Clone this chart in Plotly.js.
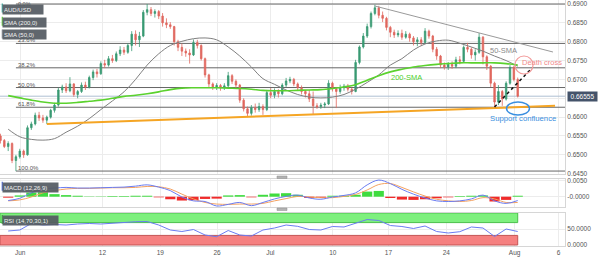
<!DOCTYPE html>
<html><head><meta charset="utf-8">
<script src="https://cdn.plot.ly/plotly-3.0.1.min.js"></script>
<style>html,body{margin:0;padding:0;background:#fff;}#chart{width:600px;height:259px;}</style>
</head><body><div id="chart"></div>
<script>
// ---------- DATA (AUD/USD 4H-style candles) ----------
const candleOpen = [.6550,.6538,.6522,.6530,.6485,.6495,.6510,.6500,.6572,.6582,.6605,.6598,.6592,.6600,.6618,.6632,.6672,.6680,.6670,.6688,
.6660,.6668,.6685,.6680,.6705,.6720,.6715,.6742,.6738,.6755,.6750,.6768,.6778,.6772,.6790,.6820,.6805,.6815,.6878,.6885,
.6875,.6880,.6868,.6850,.6845,.6840,.6800,.6785,.6775,.6770,.6765,.6798,.6790,.6755,.6712,.6688,.6680,.6684,.6678,.6683,
.6710,.6695,.6685,.6645,.6622,.6610,.6625,.6620,.6628,.6620,.6665,.6658,.6668,.6662,.6685,.6696,.6700,.6688,.6678,.6668,
.6662,.6648,.6630,.6628,.6632,.6635,.6690,.6675,.6668,.6678,.6682,.6674,.6668,.6745,.6786,.6815,.6840,.6875,.6890,.6870,
.6862,.6838,.6825,.6818,.6822,.6812,.6820,.6810,.6800,.6805,.6798,.6828,.6815,.6780,.6762,.6738,.6733,.6740,.6735,.6752,
.6748,.6785,.6780,.6765,.6772,.6812,.6760,.6735,.6690,.6640,.6668,.6648,.6690,.6732,.6700];
const candleHigh = [.6556,.6542,.6536,.6533,.6500,.6516,.6514,.6578,.6588,.6612,.6614,.6606,.6604,.6622,.6638,.6678,.6686,.6690,.6706,.6690,
.6672,.6692,.6694,.6710,.6726,.6728,.6748,.6752,.6762,.6765,.6774,.6788,.6786,.6796,.6828,.6830,.6826,.6884,.6900,.6892,
.6886,.6884,.6876,.6862,.6852,.6842,.6805,.6795,.6782,.6780,.6806,.6805,.6793,.6758,.6715,.6692,.6690,.6688,.6690,.6720,
.6714,.6700,.6688,.6650,.6628,.6632,.6636,.6638,.6634,.6672,.6677,.6676,.6674,.6690,.6704,.6707,.6704,.6692,.6684,.6672,
.6672,.6668,.6637,.6638,.6640,.6698,.6694,.6680,.6686,.6688,.6688,.6678,.6752,.6790,.6823,.6848,.6880,.6898,.6895,.6880,
.6866,.6842,.6832,.6830,.6832,.6828,.6824,.6815,.6812,.6812,.6836,.6832,.6818,.6786,.6765,.6745,.6746,.6748,.6760,.6762,
.6790,.6797,.6785,.6780,.6823,.6815,.6764,.6738,.6694,.6685,.6672,.6695,.6738,.6736,.6705];
const candleLow = [.6530,.6518,.6510,.6478,.6457,.6490,.6492,.6498,.6566,.6578,.6590,.6585,.6582,.6596,.6612,.6628,.6664,.6664,.6666,.6654,
.6650,.6664,.6672,.6676,.6698,.6705,.6712,.6730,.6734,.6744,.6746,.6762,.6765,.6768,.6775,.6790,.6786,.6812,.6870,.6868,
.6864,.6860,.6840,.6836,.6834,.6790,.6775,.6762,.6760,.6742,.6762,.6782,.6750,.6705,.6680,.6672,.6672,.6670,.6672,.6680,
.6688,.6676,.6638,.6615,.6600,.6604,.6612,.6614,.6606,.6616,.6650,.6650,.6652,.6658,.6680,.6690,.6682,.6670,.6660,.6652,
.6640,.6606,.6622,.6622,.6624,.6632,.6668,.6624,.6662,.6670,.6668,.6660,.6666,.6740,.6782,.6810,.6835,.6870,.6862,.6852,
.6830,.6812,.6810,.6812,.6805,.6808,.6800,.6790,.6788,.6790,.6795,.6808,.6772,.6752,.6730,.6726,.6725,.6728,.6730,.6740,
.6745,.6772,.6755,.6750,.6768,.6740,.6725,.6680,.6627,.6632,.6630,.6644,.6686,.6695,.6652];
const candleClose = [.6538,.6522,.6530,.6485,.6495,.6510,.6500,.6572,.6582,.6605,.6598,.6592,.6600,.6618,.6632,.6672,.6680,.6670,.6688,.6660,
.6668,.6685,.6680,.6705,.6720,.6715,.6742,.6738,.6755,.6750,.6768,.6778,.6772,.6790,.6820,.6805,.6815,.6878,.6885,.6875,
.6880,.6868,.6850,.6845,.6840,.6800,.6785,.6775,.6770,.6765,.6798,.6790,.6755,.6712,.6688,.6680,.6684,.6678,.6683,.6710,
.6695,.6685,.6645,.6622,.6610,.6625,.6620,.6628,.6620,.6665,.6658,.6668,.6662,.6685,.6696,.6700,.6688,.6678,.6668,.6662,
.6648,.6630,.6628,.6632,.6635,.6690,.6675,.6668,.6678,.6682,.6674,.6668,.6745,.6786,.6815,.6840,.6875,.6890,.6870,.6862,
.6838,.6825,.6818,.6822,.6812,.6820,.6810,.6800,.6805,.6798,.6828,.6815,.6780,.6762,.6738,.6733,.6740,.6735,.6752,.6748,
.6785,.6780,.6765,.6772,.6812,.6760,.6735,.6690,.6640,.6668,.6648,.6690,.6732,.6700,.66555];

// indicators sampled every 3rd candle
const sma50 = [.6568,.6548,.6541,.6539,.6543,.6560,.6576,.6596,.6620,.6643,.6667,.6700,.6738,.6768,.6790,.6801,.6808,.6810,.6805,.6786,
.6762,.6733,.6702,.6687,.6672,.6660,.6653,.6651,.6653,.6660,.6674,.6692,.6712,.6738,.6755,.6778,.6794,.6802,.6804,.6796,
.6786,.6775,.6762,.6750,.6735];
const sma200 = [.6657,.6651,.6645,.6640,.6637,.6637,.6639,.6642,.6645,.6650,.6655,.6658,.6662,.6667,.6673,.6677,.6678,.6678,.6678,.6677,
.6676,.6674,.6671,.6670,.6670,.6671,.6672,.6673,.6676,.6680,.6686,.6698,.6710,.6720,.6727,.6733,.6737,.6740,.6742,.6744,
.6744,.6744,.6744,.6742,.6738];
const macdLine = [-0.0012,-0.0005,0.0012,0.0024,0.0027,0.0029,0.0027,0.0027,0.0028,0.0029,0.0030,0.0033,0.0037,0.0030,0.0019,-0.0001,-0.0013,-0.0015,-0.0029,-0.0024,
-0.0018,-0.0028,-0.0018,-0.0007,0.0001,0.0005,-0.0004,-0.0008,-0.0001,0.0004,0.0012,0.0037,0.0052,0.0041,0.0023,0.0008,-0.0004,-0.0013,-0.0015,-0.0013,
-0.0007,0.0005,-0.0013,-0.0021,-0.0012];
const macdSignal = [-0.0013,-0.0010,-0.0001,0.0012,0.0019,0.0024,0.0026,0.0026,0.0027,0.0028,0.0028,0.0029,0.0032,0.0031,0.0024,0.0008,-0.0007,-0.0018,-0.0023,-0.0024,
-0.0023,-0.0023,-0.0021,-0.0013,-0.0006,0.0001,-0.0001,-0.0003,-0.0003,0.0001,0.0007,0.0021,0.0038,0.0041,0.0029,0.0015,0.0002,-0.0008,-0.0013,-0.0015,
-0.0012,-0.0003,-0.0007,-0.0018,-0.0018];
const macdHist = [-0.0003,0.0004,0.0013,0.0014,0.0008,0.0005,0.0003,0.0001,0.0001,0.0002,0.0002,0.0003,0.0003,-0.0002,-0.0008,-0.0012,-0.0011,-0.0007,-0.0006,0.0004,
0.0005,-0.0002,0.0006,0.0010,0.0011,0.0006,-0.0004,-0.0004,0.0003,0.0003,0.0006,0.0016,0.0018,-0.0004,-0.0009,-0.0010,-0.0008,-0.0005,-0.0002,0.0002,
0.0003,0.0004,-0.0015,-0.0010,0.0003];
const rsi = [43.8,46.9,67.2,62.5,64.0,62.5,65.6,67.2,65.6,67.2,70.3,72.8,73.4,62.5,46.9,42.2,48.4,31.3,25.9,45.3,
31.3,28.1,46.9,53.1,62.5,58.4,48.4,46.9,57.8,56.3,68.8,79.7,76.6,60.9,57.8,51.6,59.4,42.2,37.5,41.6,
56.3,53.1,26.6,50.0,42.2];

const tickDays = [0.1, 7.2, 12.2, 17.1, 21.7, 27.1, 31.9, 36.9, 42.8, 46.6];
const tickLabels = ['Jun','12','19','26','Jul','10','17','24','Aug','6'];
const priceTicks = [0.645, 0.650, 0.655, 0.660, 0.665, 0.670, 0.675, 0.680, 0.685, 0.690];

const fibHigh = 0.6900, fibLow = 0.6457;
const fibLevels = [0, 0.236, 0.382, 0.5, 0.618, 1];
const fibLabels = ['0.0%','23.6%','38.2%','50.0%','61.8%','100.0%'];
const rsiUpper = 70, rsiLower = 30;

// ---------- GEOMETRY ----------
const startDay = -1.6, candlesPerDay = 3;
const candleX = candleClose.map((_, i) => startDay + i / candlesPerDay);
const indStep = 3, indOffset = 2;
const indX = sma50.map((_, k) => candleX[indOffset + k * indStep]);
const xMin = -1.641, xMax = 47.15;
const lastX = candleX[candleX.length - 1];
const lastClose = candleClose[candleClose.length - 1];

const PW = 565, PH = 246;
const fx = x => x / PW, fy = y => 1 - y / PH;
const FONT = 'Liberation Sans, Arial, sans-serif';

const traces = [
  {type:'candlestick', x:candleX, open:candleOpen, high:candleHigh, low:candleLow, close:candleClose,
   xaxis:'x', yaxis:'y', whiskerwidth:0, hoverinfo:'skip',
   increasing:{line:{color:'#3a9a73', width:0.8}, fillcolor:'#3a9a73'},
   decreasing:{line:{color:'#e0675e', width:0.8}, fillcolor:'#e0675e'}},
  {type:'scatter', mode:'lines', x:indX, y:sma50, yaxis:'y', line:{color:'#808080', width:1, shape:'spline'}, hoverinfo:'skip'},
  {type:'scatter', mode:'lines', x:indX, y:sma200, yaxis:'y', line:{color:'#5bd22e', width:1.6, shape:'spline'}, hoverinfo:'skip'},
  {type:'bar', x:indX, y:macdHist, yaxis:'y2', marker:{color:macdHist.map(v => v >= 0 ? '#3fdc3f' : '#f02a2a')}, hoverinfo:'skip'},
  {type:'scatter', mode:'lines', x:indX, y:macdSignal, yaxis:'y2', line:{color:'#f4a261', width:1, shape:'spline'}, hoverinfo:'skip'},
  {type:'scatter', mode:'lines', x:indX, y:macdLine, yaxis:'y2', line:{color:'#6a7cf2', width:1, shape:'spline'}, hoverinfo:'skip'},
  {type:'scatter', mode:'lines', x:indX, y:rsi, yaxis:'y3', line:{color:'#6a7cf2', width:1}, hoverinfo:'skip'}
];

const shapes = [];
const annotations = [];

// Fibonacci retracement lines (from the swing low candle to the right edge)
const fibStartX = candleX[candleLow.indexOf(Math.min(...candleLow))];
fibLevels.forEach((lv, i) => {
  const p = fibHigh - lv * (fibHigh - fibLow);
  shapes.push({type:'line', xref:'x', yref:'y', x0:fibStartX, x1:xMax, y0:p, y1:p, layer:'between',
               line:{color:'#666', width:1}});
  if (lv === 0) {
    annotations.push({xref:'x', yref:'paper', x:fibStartX + 0.05, y:1, xanchor:'left', yanchor:'top', yshift:1,
                      text:fibLabels[i], showarrow:false, font:{family:FONT, size:5.5, color:'#555'}});
  } else {
    annotations.push({xref:'x', yref:'y', x:fibStartX + 0.05, y:p, xanchor:'left', yanchor:'bottom', yshift:-2,
                      text:fibLabels[i], showarrow:false, font:{family:FONT, size:6, color:'#555'}});
  }
});
// current price line
shapes.push({type:'line', xref:'x', yref:'y', x0:xMin, x1:xMax, y0:lastClose, y1:lastClose, layer:'between',
             line:{color:'#aebfd2', width:1}});

// drawn trendlines (day, price)
const supportLine = {x0:candleX[12], y0:candleLow[12], x1:46.29, y1:0.66300};
const resistanceLine = {x0:candleX[97], y0:0.68947, x1:46.11, y1:0.67727};
const breakLine = {x0:candleX[128], y0:candleLow[128], x1:44.13, y1:0.67250};
shapes.push(Object.assign({type:'line', xref:'x', yref:'y', line:{color:'#f5a524', width:2}}, supportLine));
shapes.push(Object.assign({type:'line', xref:'x', yref:'y', line:{color:'#9a9a9a', width:1}}, resistanceLine));
shapes.push(Object.assign({type:'line', xref:'x', yref:'y', line:{color:'#111', width:1.5, dash:'dot'}}, breakLine));
// death cross circle and support ellipse
shapes.push({type:'circle', xref:'x', yref:'y', x0:42.83, x1:44.39, y0:0.67144, y1:0.67621, line:{color:'#f29a9a', width:1.2}});
shapes.push({type:'circle', xref:'x', yref:'y', x0:42.10, x1:44.08, y0:0.66057, y1:0.66401, line:{color:'#3a8fe0', width:1.5}});

// RSI bands
shapes.push({type:'rect', xref:'x', yref:'y3', x0:xMin, x1:lastX, y0:rsiUpper, y1:100, layer:'between',
             fillcolor:'#7ef07e', line:{color:'#4bbf4b', width:1}});
shapes.push({type:'rect', xref:'x', yref:'y3', x0:xMin, x1:lastX, y0:0, y1:rsiLower, layer:'between',
             fillcolor:'#f58080', line:{color:'#c45555', width:1}});

// panel divider handles
[[176, 178.5], [208, 210.5]].forEach(([a, b]) => {
  shapes.push({type:'rect', xref:'paper', yref:'paper', x0:fx(277), x1:fx(287), y0:fy(b), y1:fy(a),
               fillcolor:'#b3b3b3', line:{color:'#8f8f8f', width:0.5}});
});

// legend / indicator label boxes
const labelBoxes = [
  {text:'AUD/USD', top:3.5, w:40, edge:'#2aa59a'},
  {text:'SMA (200,0)', top:16.8, w:43, edge:'#55d12c'},
  {text:'SMA (50,0)', top:29.5, w:43, edge:'#8a9099'},
  {text:'MACD (12,26,9)', top:181.8, w:55, edge:'#3b5bdb'},
  {text:'RSI (14,70,30,1)', top:215, w:55, edge:'#3c9c3c'}
];
labelBoxes.forEach(b => {
  annotations.push({xref:'paper', yref:'paper', x:fx(1.7), y:fy(b.top), xanchor:'left', yanchor:'top',
    text:b.text, showarrow:false, width:b.w - 2, height:7, align:'left', borderpad:1,
    bgcolor:'rgba(84,90,98,0.93)', font:{family:FONT, size:6, color:'#f2f2f2'}});
  shapes.push({type:'rect', xref:'paper', yref:'paper', x0:fx(1.7), x1:fx(2.8), y0:fy(b.top + 9), y1:fy(b.top),
    fillcolor:b.edge, line:{width:0}});
});

// current price tag
annotations.push({xref:'paper', yref:'y', x:fx(567), y:lastClose, xanchor:'left', yanchor:'middle',
  text:lastClose.toFixed(5), showarrow:false, width:27, height:7, borderpad:1,
  bgcolor:'#44536a', font:{family:FONT, size:6.5, color:'#fff'}});

// chart notes
annotations.push({xref:'x', yref:'y', x:41.88, y:0.6778, text:'50-SMA', showarrow:false,
  font:{family:FONT, size:7.5, color:'#8a8a8a'}});
annotations.push({xref:'x', yref:'y', x:33.5, y:0.67038, text:'200-SMA', showarrow:false,
  font:{family:FONT, size:7.5, color:'#4ccf2a'}});
annotations.push({xref:'x', yref:'y', x:43.3, y:0.67462, xanchor:'left', text:'Death cross', showarrow:false,
  font:{family:FONT, size:7.5, color:'#f08a8a'}});
annotations.push({xref:'x', yref:'y', x:43.52, y:0.65977, text:'Support confluence', showarrow:false,
  font:{family:FONT, size:7.7, color:'#3a8fe0'}});

const axisLine = '#d6d6d6', grid = '#ececec';
const layout = {
  width:600, height:259, margin:{l:0, r:35, t:0, b:13},
  paper_bgcolor:'#fff', plot_bgcolor:'#fff', showlegend:false, bargap:0.12, boxgap:0.45,
  font:{family:FONT, size:6.5, color:'#555'},
  xaxis:{range:[xMin, xMax], anchor:'y3', tickmode:'array', tickvals:tickDays, ticktext:tickLabels,
         tickfont:{size:6.5, color:'#555'}, showgrid:true, gridcolor:grid, zeroline:false, ticks:'',
         showline:true, linecolor:axisLine, mirror:'all', rangeslider:{visible:false}, fixedrange:true},
  yaxis:{domain:[1 - 174 / PH, 1], anchor:'x', side:'right', range:[0.64492, 0.69106],
         tickmode:'array', tickvals:priceTicks,
         ticktext:priceTicks.map(v => Math.abs(v - lastClose) < 0.0015 ? '' : v.toFixed(4)),
         tickfont:{size:6.5, color:'#555'}, gridcolor:grid, zeroline:false,
         showline:true, linecolor:axisLine, mirror:'all', ticks:''},
  yaxis2:{domain:[(PH - 207) / PH, (PH - 179) / PH], anchor:'x', side:'right', range:[-0.00322, 0.00553],
          tickmode:'array', tickvals:[0, 0.005], ticktext:['-0.0000','0.0050'], tickfont:{size:6.5, color:'#555'},
          gridcolor:grid, zeroline:false, showline:true, linecolor:axisLine, mirror:'all', ticks:''},
  yaxis3:{domain:[0, 33 / PH], anchor:'x', side:'right', range:[-3.1, 100],
          tickmode:'array', tickvals:[0, 50], ticktext:['0.0000','50.0000'], tickfont:{size:6.5, color:'#555'},
          gridcolor:grid, zeroline:false, showline:true, linecolor:axisLine, mirror:'all', ticks:''},
  shapes:shapes, annotations:annotations
};

Plotly.newPlot('chart', traces, layout, {displayModeBar:false, staticPlot:true});
</script></body></html>
